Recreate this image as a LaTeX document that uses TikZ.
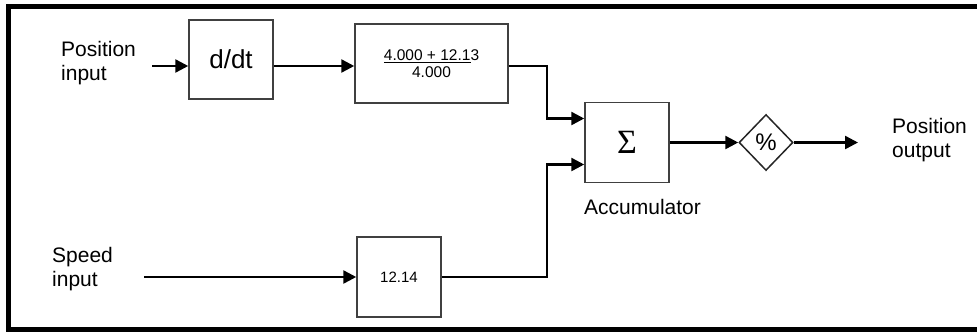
\documentclass[tikz,border=0pt]{standalone}
\usepackage{fontspec}
\setmainfont{Liberation Sans}
\newfontfamily\sigmafont{Liberation Serif}
\usetikzlibrary{arrows.meta,shapes.geometric}

\begin{document}
\begin{tikzpicture}[x=1pt,y=-1pt,
  blk/.style={draw=black!75,line width=1.5pt,minimum width=84pt,minimum height=80pt,inner sep=0pt},
  flow/.style={line width=2.5pt,-{Triangle[length=13pt,width=13pt]}},
  lbl/.style={align=left,anchor=west,inner sep=0pt,font=\fontsize{21}{24}\selectfont}]
  \useasboundingbox (0,0) rectangle (977,332);
  \begin{scope}
    \clip (0,0) rectangle (977,332);
    \draw[line width=5pt] (8,6.5) rectangle (995,329.5);
  \end{scope}
  % blocks
  \node[blk,minimum height=79pt] (ddt) at (231,59.5) {\fontsize{26}{26}\selectfont d/dt};
  \node[blk,minimum width=153pt,minimum height=79pt,align=center,
        font=\fontsize{15.5}{17}\selectfont] (frac) at (431.5,63.5) {\underline{4.000 + 12.1}3\\4.000};
  \node[blk] (sum) at (627,142.5) {\fontsize{34}{34}\sigmafont Σ};
  \node[blk] (spd) at (399,277) {\fontsize{15}{15}\selectfont 12.14};
  \node[draw=black!85,line width=1.5pt,shape=diamond,minimum width=54pt,minimum height=56pt,
        inner sep=0pt] (mod) at (766,142.5) {\fontsize{24}{24}\selectfont\%};
  % labels
  \node[lbl] (posin) at (61,62.7) {Position\\input};
  \node[lbl] (spdin) at (52,269.5) {Speed\\input};
  \node[lbl] (posout) at (892,139.7) {Position\\output};
  \node[lbl] (acc) at (584,206.5) {Accumulator};
  % connectors
  \coordinate (pin) at (152,66);
  \coordinate (sin) at (144,277);
  \coordinate (jct) at (547,142.5);
  \coordinate (pout) at (858,142.5);
  \draw[flow] (pin) -- (pin -| ddt.west);
  \draw[flow] (ddt.east |- pin) -- (frac.west |- pin);
  \draw[flow] (frac.east |- pin) -- (jct |- pin) |- ([yshift=24pt]sum.west);
  \draw[flow] (sin) -- (spd.west);
  \draw[flow] (spd.east) -- (jct |- spd.east) |- ([yshift=-22pt]sum.west);
  \draw[flow] (sum.east) -- (mod.west);
  \draw[flow] (mod.east) -- (pout);
\end{tikzpicture}
\end{document}
